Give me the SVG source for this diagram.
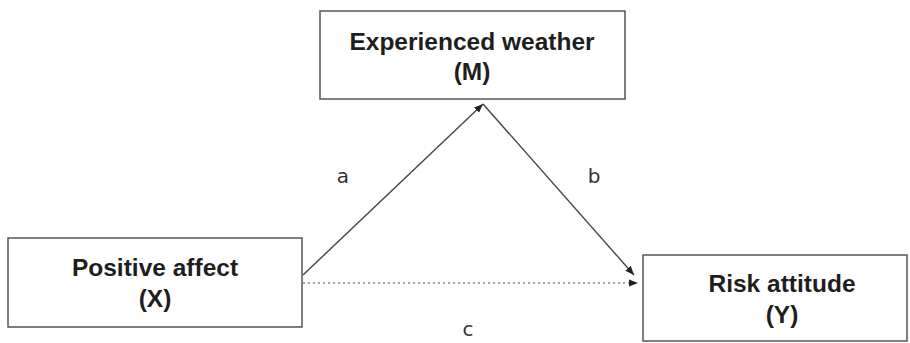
<svg xmlns="http://www.w3.org/2000/svg" width="910" height="343" viewBox="0 0 910 343">
<style>
.box{fill:#fff;stroke:#555;stroke-width:1.5}
.t{font-family:"Liberation Sans",Arial,sans-serif;font-weight:bold;font-size:24.5px;fill:#1e1e1e;text-anchor:middle}
.lbl{font-family:"DejaVu Sans","Liberation Sans",sans-serif;font-size:20px;fill:#333;text-anchor:middle}
.ln{stroke:#444;stroke-width:1.4;fill:none}
.dot{stroke:#888;stroke-width:1.3;stroke-dasharray:2 3;fill:none}
</style>
<defs>
<marker id="ah" viewBox="0 0 10 10" refX="10" refY="5" markerWidth="9" markerHeight="9" markerUnits="userSpaceOnUse" orient="auto">
<path d="M0,1 L10,5 L0,9 z" fill="#222"/>
</marker>
</defs>
<rect width="910" height="343" fill="#fff"/>
<g id="connectors">
<line class="ln" x1="303" y1="275" x2="483" y2="104" marker-end="url(#ah)"/>
<line class="ln" x1="483" y1="104" x2="634" y2="275" marker-end="url(#ah)"/>
<line class="dot" x1="303" y1="283" x2="638" y2="283" marker-end="url(#ah)"/>
<text class="lbl" x="343" y="183">a</text>
<text class="lbl" x="594" y="183">b</text>
<text class="lbl" x="468" y="336">c</text>
</g>
<g id="node-M">
<rect class="box" x="320" y="11" width="305" height="88"/>
<text class="t" x="472" y="50">Experienced weather</text>
<text class="t" x="472" y="80">(M)</text>
</g>
<g id="node-X">
<rect class="box" x="8" y="238" width="294" height="89"/>
<text class="t" x="155" y="276">Positive affect</text>
<text class="t" x="155" y="307">(X)</text>
</g>
<g id="node-Y">
<rect class="box" x="643" y="255" width="264" height="86"/>
<text class="t" x="782" y="292">Risk attitude</text>
<text class="t" x="782" y="323">(Y)</text>
</g>
</svg>
